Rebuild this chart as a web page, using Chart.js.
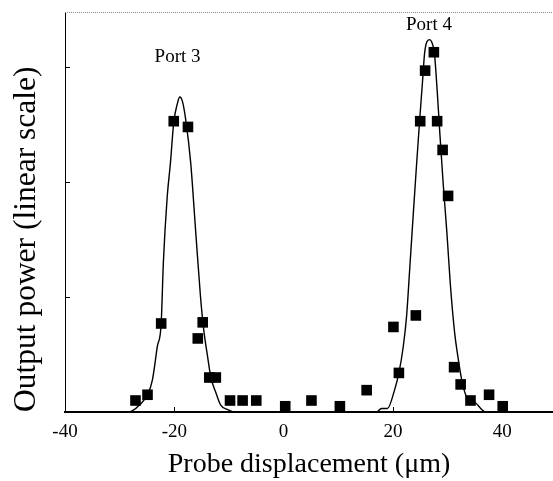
<!DOCTYPE html>
<html>
<head>
<meta charset="utf-8">
<script src="https://cdn.jsdelivr.net/npm/chart.js@4"></script>
<style>
  body { margin: 0; background: #fff; }
  canvas { display: block; }
</style>
</head>
<body>
<canvas id="myChart" width="553" height="481"></canvas>
<script>
// measured points (squares)
var measX = [-27.1, -24.9, -22.4, -20.1, -17.5, -14.8, -15.7, -13.6, -12.4, -9.8, -7.5, -5.0, 0.3, 5.1, 10.3, 15.2, 20.1, 21.1, 24.2, 25.0, 25.9, 27.5, 28.1, 29.1, 30.1, 31.2, 32.4, 34.2, 37.6, 40.1];
var measY = [0.10, 0.15, 0.77, 2.53, 2.48, 0.78, 0.64, 0.30, 0.30, 0.10, 0.10, 0.10, 0.05, 0.10, 0.05, 0.19, 0.74, 0.34, 0.84, 2.53, 2.97, 3.13, 2.53, 2.28, 1.88, 0.39, 0.24, 0.10, 0.15, 0.05];

// fitted curve
var fitX = [-40, -28.4, -27.7, -26.2, -24.9, -24.0, -23.1, -22.4, -22.0, -21.3, -20.7, -20.1, -19.4, -19.0, -18.5, -17.9, -17.0, -16.1, -15.2, -14.6, -13.9, -13.3, -12.4, -11.5, -10.2, -9.1,
            17.0, 17.9, 19.0, 20.3, 21.1, 21.9, 22.5, 23.1, 23.7, 24.3, 24.9, 25.4, 25.8, 26.2, 26.7, 27.1, 27.6, 28.1, 28.6, 29.2, 29.9, 30.5, 31.3, 32.0, 32.6, 33.5, 35.1, 36.3, 36.9, 49.3];
var fitY = [0, 0, 0.01, 0.07, 0.15, 0.28, 0.57, 0.77, 1.30, 1.87, 2.17, 2.52, 2.69, 2.74, 2.70, 2.54, 2.17, 1.58, 1.00, 0.71, 0.48, 0.30, 0.17, 0.06, 0.02, 0,
            0, 0.03, 0.03, 0.19, 0.34, 0.57, 0.83, 1.26, 1.70, 2.13, 2.54, 2.86, 3.12, 3.22, 3.24, 3.22, 3.12, 2.80, 2.42, 1.99, 1.55, 1.12, 0.69, 0.45, 0.28, 0.13, 0.08, 0.02, 0, 0];

var xTicks = [-40, -20, 0, 20, 40];
var yTicks = [1, 2, 3];

var portLabels = ['Port 3', 'Port 4'];
var portX = [-19.4, 26.6];
var portY = [3.09, 3.37];

var serif = '"Liberation Serif", "Times New Roman", serif';

function noPad(s) {
    s.paddingLeft = 0;
    s.paddingRight = 0;
    s.paddingTop = 0;
    s.paddingBottom = 0;
}

var extras = {
    id: 'extras',
    afterDraw: function (chart) {
        var c = chart.ctx, a = chart.chartArea;
        var xs = chart.scales.x, ys = chart.scales.y;
        c.save();
        // dotted top frame
        c.strokeStyle = '#888';
        c.lineWidth = 1;
        c.setLineDash([1, 1]);
        c.beginPath();
        c.moveTo(a.left, a.top + 0.5);
        c.lineTo(a.right, a.top + 0.5);
        c.stroke();
        c.setLineDash([]);
        // inner tick marks
        c.strokeStyle = '#000';
        yTicks.forEach(function (v) {
            var py = Math.round(ys.getPixelForValue(v)) + 0.5;
            c.beginPath();
            c.moveTo(a.left, py);
            c.lineTo(a.left + 5, py);
            c.stroke();
        });
        xTicks.forEach(function (v) {
            var px = Math.round(xs.getPixelForValue(v)) + 0.5;
            c.beginPath();
            c.moveTo(px, a.bottom);
            c.lineTo(px, a.bottom - 5);
            c.stroke();
        });
        // port labels
        c.fillStyle = '#000';
        c.font = '19px ' + serif;
        c.textAlign = 'center';
        c.textBaseline = 'middle';
        portLabels.forEach(function (t, i) {
            c.fillText(t, xs.getPixelForValue(portX[i]), ys.getPixelForValue(portY[i]));
        });
        c.restore();
    }
};

var ctx = document.getElementById('myChart').getContext('2d');
var myChart = new Chart(ctx, {
    type: 'scatter',
    data: {
        datasets: [{
            label: 'Measured',
            data: measX.map(function (x, i) { return {x: x, y: measY[i]}; }),
            pointStyle: 'rect',
            pointRadius: 7.5,
            pointHoverRadius: 7.5,
            backgroundColor: '#000',
            borderColor: '#000',
            borderWidth: 0,
            order: 0
        }, {
            label: 'Fit',
            data: fitX.map(function (x, i) { return {x: x, y: fitY[i]}; }),
            showLine: true,
            cubicInterpolationMode: 'monotone',
            pointRadius: 0,
            borderColor: '#000',
            borderWidth: 1.4,
            order: 1
        }]
    },
    options: {
        responsive: false,
        animation: false,
        layout: { autoPadding: false, padding: { top: 12, left: 0, right: 0, bottom: 0 } },
        plugins: {
            legend: { display: false },
            tooltip: { enabled: false }
        },
        scales: {
            x: {
                type: 'linear',
                min: -40,
                max: 49.3,
                afterBuildTicks: function (s) { s.ticks = xTicks.map(function (v) { return {value: v}; }); },
                afterFit: function (s) { s.height = 69; noPad(s); },
                grid: { display: false, drawTicks: false },
                border: { display: true, color: '#000', width: 2 },
                ticks: {
                    color: '#000',
                    padding: 9,
                    maxRotation: 0,
                    font: { family: serif, size: 19 }
                },
                title: {
                    display: true,
                    text: 'Probe displacement (\u03bcm)',
                    color: '#000',
                    padding: { top: 0, bottom: 0 },
                    font: { family: serif, size: 28 }
                }
            },
            y: {
                min: 0,
                max: 3.48,
                afterBuildTicks: function (s) { s.ticks = yTicks.map(function (v) { return {value: v}; }); },
                afterFit: function (s) { s.width = 65; noPad(s); },
                grid: { display: false, drawTicks: false },
                border: { display: true, color: '#000', width: 1 },
                ticks: { display: false },
                title: {
                    display: true,
                    text: 'Output power (linear scale)',
                    align: 'start',
                    color: '#000',
                    padding: { top: 8, bottom: 0 },
                    font: { family: serif, size: 31.5 }
                }
            }
        }
    },
    plugins: [extras]
});
</script>
</body>
</html>
